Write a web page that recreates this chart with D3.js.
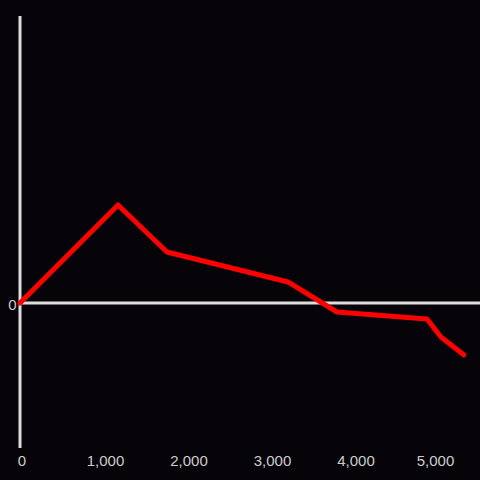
<!DOCTYPE html>
<html><head><meta charset="utf-8">
<script src="https://cdn.jsdelivr.net/npm/d3@7"></script>
<style>html,body{margin:0;padding:0;background:#060408;}svg{display:block;}</style>
</head><body>
<svg id="c" width="480" height="480"></svg>
<script>
const xValues = [0, 1174, 1760, 3210, 3796, 4874, 5042, 5317];
const yValues = [0, 0.681, 0.354, 0.146, -0.0625, -0.111, -0.236, -0.361];
const xTicks = [0, 1000, 2000, 3000, 4000, 5000];
const yTicks = [0];

const svg = d3.select("#c");
svg.append("rect").attr("width", 480).attr("height", 480).attr("fill", "#060408");
const x = d3.scaleLinear().domain([0, 5000]).range([20, 437.5]);
const y = d3.scaleLinear().domain([-1, 2]).range([447, 15]);

svg.append("line").attr("x1", x(0)).attr("x2", x(0)).attr("y1", y(2) + 1).attr("y2", y(-1) + 1)
  .attr("stroke", "#dddddd").attr("stroke-width", 3);
svg.append("line").attr("x1", x(0)).attr("x2", 480).attr("y1", y(0)).attr("y2", y(0))
  .attr("stroke", "#dddddd").attr("stroke-width", 3);

const fmt = d3.format(",");
svg.selectAll("text.xt").data(xTicks).join("text").attr("class", "xt")
  .attr("x", (d, i) => x(d) + 2 - (i === xTicks.length - 1 ? 4 : 0)).attr("y", 466)
  .attr("text-anchor", "middle").attr("fill", "#cccccc")
  .attr("font-family", "'Liberation Sans', Arial, sans-serif").attr("font-size", 15)
  .text(d => fmt(d));
svg.selectAll("text.yt").data(yTicks).join("text").attr("class", "yt")
  .attr("x", 16.5).attr("y", d => y(d) + 6.5)
  .attr("text-anchor", "end").attr("fill", "#cccccc")
  .attr("font-family", "'Liberation Sans', Arial, sans-serif").attr("font-size", 15)
  .text(d => fmt(d));

const pts = xValues.map((v, i) => [v, yValues[i]]);
svg.append("path").datum(pts)
  .attr("d", d3.line().x(d => x(d[0])).y(d => y(d[1])))
  .attr("fill", "none").attr("stroke", "#ff0000").attr("stroke-width", 5)
  .attr("stroke-linejoin", "round").attr("stroke-linecap", "round");
</script>
</body></html>
